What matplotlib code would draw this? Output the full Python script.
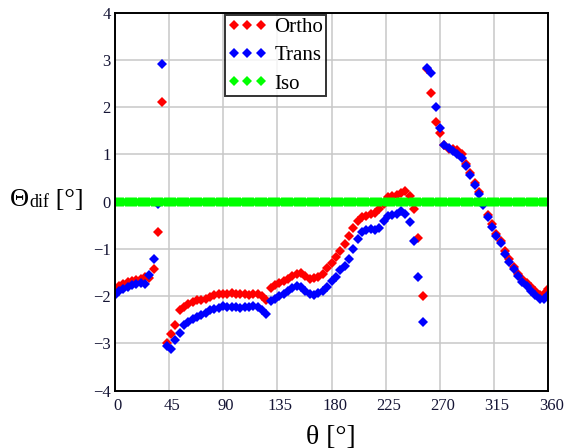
import matplotlib
matplotlib.use('Agg')
import matplotlib.pyplot as plt
from matplotlib.transforms import ScaledTranslation
import numpy as np

# sample grid of the angle (deg)
theta = np.linspace(0, 360, 101)
theta_iso = np.linspace(0, 360, 201)

ortho = [-1.85, -1.78, -1.74, -1.70, -1.67, -1.65, -1.63, -1.60, -1.62, -1.42,
         -0.64, 2.10, -3.00, -2.79, -2.60, -2.30, -2.22, -2.17, -2.12, -2.09,
         -2.07, -2.05, -2.02, -1.98, -1.96, -1.95, -1.96, -1.93, -1.95, -1.96,
         -1.95, -1.97, -1.95, -1.96, -2.00, -2.08, -1.82, -1.76, -1.72, -1.68,
         -1.64, -1.58, -1.53, -1.50, -1.57, -1.64, -1.62, -1.60, -1.52, -1.40,
         -1.30, -1.18, -1.04, -0.90, -0.72, -0.55, -0.40, -0.33, -0.30, -0.27,
         -0.23, -0.15, -0.05, 0.10, 0.13, 0.15, 0.18, 0.22, 0.12, -0.16,
         -0.76, -1.99, 2.80, 2.30, 1.69, 1.46, 1.20, 1.12, 1.12, 1.10,
         1.00, 0.80, 0.60, 0.40, 0.20, -0.02, -0.28, -0.48, -0.68, -0.84,
         -1.05, -1.22, -1.38, -1.52, -1.64, -1.73, -1.80, -1.90, -1.98, -1.95,
         -1.85]

trans = [-1.97, -1.90, -1.85, -1.80, -1.77, -1.75, -1.73, -1.74, -1.55, -1.22,
         -0.05, 2.92, -3.05, -3.12, -2.93, -2.78, -2.62, -2.55, -2.48, -2.44,
         -2.40, -2.36, -2.30, -2.27, -2.24, -2.20, -2.22, -2.23, -2.23, -2.24,
         -2.23, -2.22, -2.20, -2.22, -2.30, -2.38, -2.10, -2.05, -2.00, -1.95,
         -1.88, -1.82, -1.78, -1.80, -1.88, -1.95, -1.97, -1.94, -1.90, -1.80,
         -1.68, -1.60, -1.45, -1.37, -1.22, -1.00, -0.80, -0.65, -0.60, -0.58,
         -0.60, -0.55, -0.40, -0.30, -0.28, -0.26, -0.20, -0.25, -0.44, -0.83,
         -1.60, -2.55, 2.84, 2.73, 2.00, 1.55, 1.20, 1.14, 1.08, 1.02,
         0.93, 0.76, 0.57, 0.36, 0.17, -0.08, -0.33, -0.53, -0.73, -0.88,
         -1.10, -1.28, -1.43, -1.57, -1.70, -1.79, -1.88, -1.98, -2.05, -2.05,
         -1.97]

iso = np.zeros(len(theta_iso))

xticks = [0, 45, 90, 135, 180, 225, 270, 315, 360]
yticks = [-4, -3, -2, -1, 0, 1, 2, 3, 4]
ytick_labels = ['\u22124', '\u22123', '\u22122', '\u22121', '0', '1', '2', '3', '4']

plt.rcParams['font.family'] = ['Liberation Serif', 'DejaVu Serif']
W, H = 565, 448
fig = plt.figure(figsize=(W / 100, H / 100), dpi=100)
ax = fig.add_axes([114.7 / W, 1 - 390.7 / H, (548.3 - 114.7) / W, (390.7 - 12.7) / H])

ms = 5.2
ax.plot(theta, ortho, 'D', color='#ff0000', ms=ms, mew=0, label='Ortho')
ax.plot(theta, trans, 'D', color='#0000ff', ms=ms, mew=0, label='Trans')
ax.plot(theta_iso, iso, 'D', color='#00ff00', ms=ms, mew=0, label='Iso')

ax.set_xlim(0, 360)
ax.set_ylim(-4, 4)
ax.set_xticks(xticks)
ax.set_yticks(yticks)
ax.set_yticklabels(ytick_labels)
ax.grid(True, color='#c8c8c8', lw=1.1)
ax.set_axisbelow(True)
ax.tick_params(length=0, labelsize=12, labelcolor='#151535')
ax.tick_params(axis='x', pad=5)
ax.tick_params(axis='y', pad=3)
for lab in ax.get_xticklabels():
    lab.set_transform(lab.get_transform() + ScaledTranslation(3 / 100, 0, fig.dpi_scale_trans))
for s in ax.spines.values():
    s.set_linewidth(1.4)
    s.set_color('black')

leg = ax.legend(loc='upper left', bbox_to_anchor=(225 / W, 1 - 15 / H),
                bbox_transform=fig.transFigure, borderaxespad=0, numpoints=3,
                fontsize=15, frameon=True, fancybox=False, handlelength=1.9,
                handletextpad=0.35, borderpad=0.12, labelspacing=0.42)
leg.get_frame().set_edgecolor('black')
leg.get_frame().set_linewidth(1.4)

fig.text(331 / W, 1 - 437 / H, '\u03b8 [\u00b0]', ha='center', va='center', fontsize=20)

t1 = fig.text(10 / W, 1 - 206 / H, '\u0398', fontsize=19, va='baseline', ha='left')
t2 = ax.annotate('dif', xy=(1, 0), xycoords=t1, va='bottom', ha='left', fontsize=13)
t3 = ax.annotate(' [\u00b0]', xy=(1, 0), xycoords=t2, va='bottom', ha='left', fontsize=19)

fig.savefig('out.png', dpi=100)
